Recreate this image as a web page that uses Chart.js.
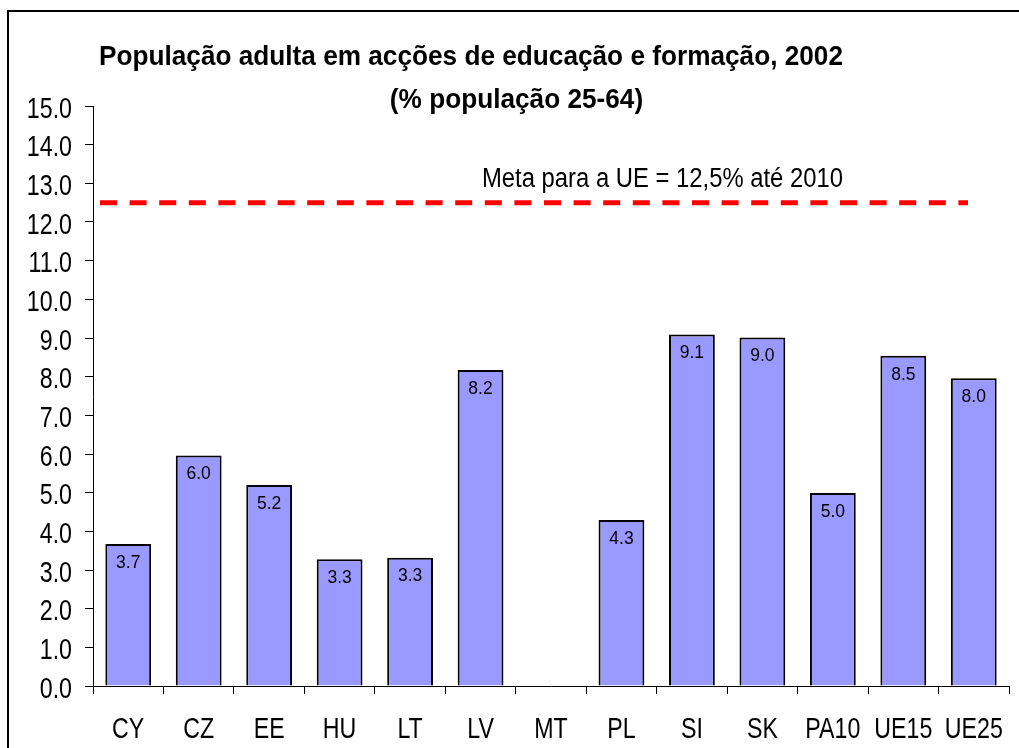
<!DOCTYPE html>
<html>
<head>
<meta charset="utf-8">
<script src="https://cdn.jsdelivr.net/npm/chart.js@4.4.0/dist/chart.umd.min.js"></script>
<style>
  html, body { margin: 0; padding: 0; background: #ffffff; }
  #wrap { position: relative; width: 1019px; height: 748px; }
</style>
</head>
<body>
<div id="wrap"><canvas id="chart"></canvas></div>
<script>
// Chart data
const categories = ['CY', 'CZ', 'EE', 'HU', 'LT', 'LV', 'MT', 'PL', 'SI', 'SK', 'PA10', 'UE15', 'UE25'];
const participation = [3.67, 5.96, 5.2, 3.28, 3.32, 8.17, null, 4.29, 9.09, 9.01, 4.99, 8.54, 7.96];
const targetValue = 12.5;
const targetLabel = 'Meta para a UE = 12,5% até 2010';
const titleLines = ['População adulta em acções de educação e formação, 2002', '(% população 25-64)'];
const yMin = 0;
const yMax = 15;
const yStep = 1;

const family = '"Liberation Sans", Arial, sans-serif';
const narrowScale = 0.8; // no Arial Narrow installed, so squeeze Liberation Sans

// draw text squeezed horizontally, like a narrow face
function narrowText(ctx, text, x, y, font, sx, align) {
    ctx.save();
    ctx.font = font;
    ctx.translate(x, y);
    ctx.scale(sx, 1);
    ctx.textAlign = align;
    ctx.textBaseline = 'alphabetic';
    ctx.fillStyle = '#000000';
    ctx.fillText(text, 0, 0);
    ctx.restore();
}

function fitScale(ctx, text, font, width) {
    ctx.save();
    ctx.font = font;
    const w = ctx.measureText(text).width;
    ctx.restore();
    return width / w;
}

// Outer frame (only top and left edges are visible in the picture)
const frame = {
    id: 'frame',
    beforeDraw: (chart) => {
        const ctx = chart.ctx;
        ctx.save();
        ctx.fillStyle = '#000000';
        ctx.fillRect(7, 10, chart.width - 7, 2);
        ctx.fillRect(7, 10, 2, chart.height - 10);
        ctx.restore();
    }
};

// Two title lines, placed by hand
const titles = {
    id: 'titles',
    afterDraw: (chart) => {
        const ctx = chart.ctx;
        const font = 'bold 28px ' + family;
        const sx = fitScale(ctx, titleLines[0], font, 744);
        narrowText(ctx, titleLines[0], 471, 65, font, sx, 'center');
        narrowText(ctx, titleLines[1], 516.5, 108, font, sx, 'center');
    }
};

// Axis labels drawn from the scales' own ticks
const axisLabels = {
    id: 'axisLabels',
    afterDraw: (chart) => {
        const ctx = chart.ctx;
        const xs = chart.scales.x;
        const ys = chart.scales.y;
        const font = '29px ' + family;
        ys.ticks.forEach((t) => {
            const y = ys.getPixelForValue(t.value);
            narrowText(ctx, Number(t.value).toFixed(1), xs.left - 21, y + 11.5, font, narrowScale, 'right');
        });
        categories.forEach((c, i) => {
            const x = xs.getPixelForValue(i);
            narrowText(ctx, c, x, ys.bottom + 52, font, narrowScale, 'center');
        });
    }
};

// Red dashed target line with its caption
const targetLine = {
    id: 'targetLine',
    afterDatasetsDraw: (chart) => {
        const ctx = chart.ctx;
        const area = chart.chartArea;
        const y = chart.scales.y.getPixelForValue(targetValue);
        ctx.save();
        ctx.strokeStyle = '#FF0000';
        ctx.lineWidth = 5;
        ctx.setLineDash([17, 12.6]);
        ctx.beginPath();
        ctx.moveTo(area.left + 7, y);
        ctx.lineTo(area.right - 41, y);
        ctx.stroke();
        ctx.restore();
        const font = '27px ' + family;
        const sx = fitScale(ctx, targetLabel, font, 361);
        narrowText(ctx, targetLabel, area.left + 389, y - 16, font, sx, 'left');
    }
};

// Value labels just inside the top of each bar
const barLabels = {
    id: 'barLabels',
    afterDatasetsDraw: (chart) => {
        const ctx = chart.ctx;
        const meta = chart.getDatasetMeta(0);
        ctx.save();
        ctx.fillStyle = '#000000';
        ctx.font = '17.5px ' + family;
        ctx.textAlign = 'center';
        ctx.textBaseline = 'middle';
        meta.data.forEach((bar, i) => {
            const v = participation[i];
            if (v === null || v === undefined) return;
            ctx.fillText(v.toFixed(1), bar.x, bar.y + 19);
        });
        ctx.restore();
    }
};

new Chart(document.getElementById('chart'), {
    type: 'bar',
    data: {
        labels: categories,
        datasets: [{
            data: participation,
            backgroundColor: '#9999FF',
            borderColor: '#000000',
            borderWidth: 2,
            barPercentage: 0.65,
            categoryPercentage: 1.0
        }]
    },
    options: {
        responsive: true,
        maintainAspectRatio: false,
        animation: false,
        layout: { padding: { top: 106, right: 10, left: 0, bottom: 0 } },
        plugins: {
            legend: { display: false },
            tooltip: { enabled: false },
            title: { display: false }
        },
        scales: {
            x: {
                offset: true,
                afterFit: (scale) => { scale.height = 62; },
                grid: {
                    offset: true,
                    drawOnChartArea: false,
                    drawTicks: true,
                    tickLength: 8,
                    color: '#000000',
                    lineWidth: 1
                },
                border: { display: true, color: '#000000', width: 1 },
                ticks: { display: false, autoSkip: false }
            },
            y: {
                min: yMin,
                max: yMax,
                afterFit: (scale) => { scale.width = 93; },
                grid: {
                    drawOnChartArea: false,
                    drawTicks: true,
                    tickLength: 8,
                    color: '#000000',
                    lineWidth: 1
                },
                border: { display: true, color: '#000000', width: 1 },
                ticks: { display: false, stepSize: yStep }
            }
        }
    },
    plugins: [frame, targetLine, barLabels, axisLabels, titles]
});
</script>
</body>
</html>
